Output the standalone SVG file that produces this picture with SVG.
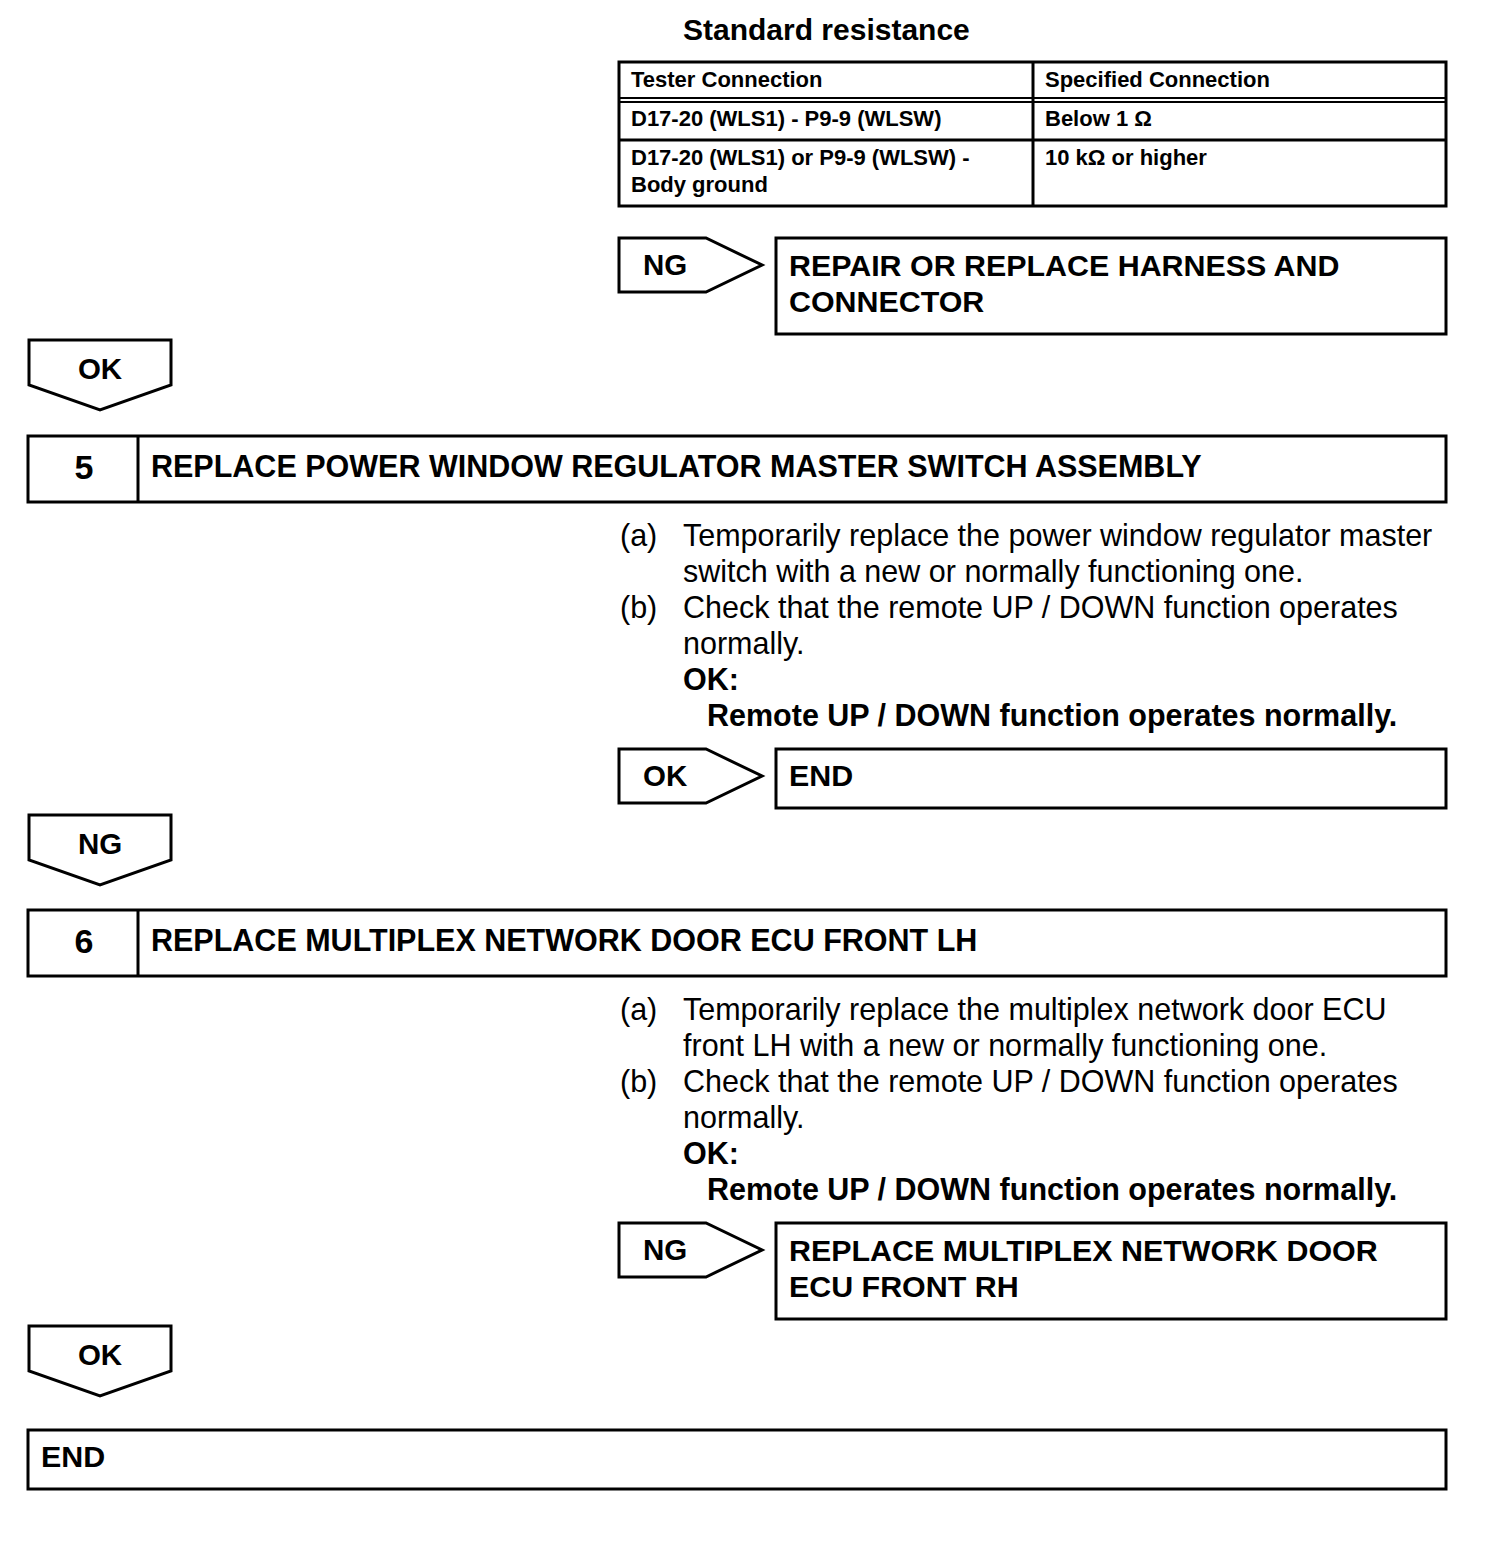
<svg xmlns="http://www.w3.org/2000/svg" width="1504" height="1556" viewBox="0 0 1504 1556">
<style>
.ln{fill:#fff;stroke:#000;stroke-width:3}
.b{font-family:"Liberation Sans",Arial,sans-serif;font-weight:bold;fill:#000}
.r{font-family:"Liberation Sans",Arial,sans-serif;fill:#000}
.t{font-size:22px}
.h{font-size:30.5px}
.a{font-size:29.5px}
.bt{font-size:30.4px}
.p{font-size:30.5px}
</style>
<rect width="1504" height="1556" fill="#fff"/>
<g id="spec">
<text class="b" x="683" y="40" font-size="30">Standard resistance</text>
<rect class="ln" x="619" y="62" width="827" height="144"/>
<line x1="619" y1="98" x2="1446" y2="98" stroke="#000" stroke-width="2"/>
<line x1="619" y1="102" x2="1446" y2="102" stroke="#000" stroke-width="2"/>
<line x1="619" y1="140" x2="1446" y2="140" stroke="#000" stroke-width="3"/>
<line x1="1033" y1="62" x2="1033" y2="206" stroke="#000" stroke-width="3"/>
<text class="b t" x="631" y="87">Tester Connection</text>
<text class="b t" x="1045" y="87">Specified Connection</text>
<text class="b t" x="631" y="126">D17-20 (WLS1) - P9-9 (WLSW)</text>
<text class="b t" x="1045" y="126">Below 1 Ω</text>
<text class="b t" x="631" y="165">D17-20 (WLS1) or P9-9 (WLSW) -</text>
<text class="b t" x="631" y="192">Body ground</text>
<text class="b t" x="1045" y="165">10 kΩ or higher</text>
</g>
<g id="conn">
<g id="ng1"><polygon class="ln" points="619,238 706,238 762,265 706,292 619,292"/><text class="b a" x="643" y="275">NG</text></g>
<g id="ok1"><polygon class="ln" points="29,340 171,340 171,385 100,410 29,385"/><text class="b a" x="100" y="379" text-anchor="middle">OK</text></g>
<g id="ok2"><polygon class="ln" points="619,749 706,749 762,776 706,803 619,803"/><text class="b a" x="643" y="786">OK</text></g>
<g id="ng2"><polygon class="ln" points="29,815 171,815 171,860 100,885 29,860"/><text class="b a" x="100" y="854" text-anchor="middle">NG</text></g>
<g id="ng3"><polygon class="ln" points="619,1223 706,1223 762,1250 706,1277 619,1277"/><text class="b a" x="643" y="1260">NG</text></g>
<g id="ok3"><polygon class="ln" points="29,1326 171,1326 171,1371 100,1396 29,1371"/><text class="b a" x="100" y="1365" text-anchor="middle">OK</text></g>
</g>
<g id="repair1">
<rect class="ln" x="776" y="238" width="670" height="96"/>
<text class="b bt" x="789" y="276">REPAIR OR REPLACE HARNESS AND</text>
<text class="b bt" x="789" y="312">CONNECTOR</text>
</g>
<g id="step5">
<rect class="ln" x="28" y="436" width="1418" height="66"/>
<line x1="138" y1="436" x2="138" y2="502" stroke="#000" stroke-width="3"/>
<text class="b" x="84" y="479" font-size="34" text-anchor="middle">5</text>
<text class="b h" x="151" y="477">REPLACE POWER WINDOW REGULATOR MASTER SWITCH ASSEMBLY</text>
</g>
<g id="proc5">
<text class="r p" x="620" y="546">(a)</text>
<text class="r p" x="683" y="546">Temporarily replace the power window regulator master</text>
<text class="r p" x="683" y="582">switch with a new or normally functioning one.</text>
<text class="r p" x="620" y="618">(b)</text>
<text class="r p" x="683" y="618">Check that the remote UP / DOWN function operates</text>
<text class="r p" x="683" y="654">normally.</text>
<text class="b p" x="683" y="690">OK:</text>
<text class="b p" x="707" y="726">Remote UP / DOWN function operates normally.</text>
</g>
<g id="end1">
<rect class="ln" x="776" y="749" width="670" height="59"/>
<text class="b bt" x="789" y="786">END</text>
</g>
<g id="step6">
<rect class="ln" x="28" y="910" width="1418" height="66"/>
<line x1="138" y1="910" x2="138" y2="976" stroke="#000" stroke-width="3"/>
<text class="b" x="84" y="953" font-size="34" text-anchor="middle">6</text>
<text class="b h" x="151" y="951">REPLACE MULTIPLEX NETWORK DOOR ECU FRONT LH</text>
</g>
<g id="proc6">
<text class="r p" x="620" y="1020">(a)</text>
<text class="r p" x="683" y="1020">Temporarily replace the multiplex network door ECU</text>
<text class="r p" x="683" y="1056">front LH with a new or normally functioning one.</text>
<text class="r p" x="620" y="1092">(b)</text>
<text class="r p" x="683" y="1092">Check that the remote UP / DOWN function operates</text>
<text class="r p" x="683" y="1128">normally.</text>
<text class="b p" x="683" y="1164">OK:</text>
<text class="b p" x="707" y="1200">Remote UP / DOWN function operates normally.</text>
</g>
<g id="replace-rh">
<rect class="ln" x="776" y="1223" width="670" height="96"/>
<text class="b bt" x="789" y="1261">REPLACE MULTIPLEX NETWORK DOOR</text>
<text class="b bt" x="789" y="1297">ECU FRONT RH</text>
</g>
<g id="end2">
<rect class="ln" x="28" y="1430" width="1418" height="59"/>
<text class="b bt" x="41" y="1467">END</text>
</g>
</svg>
